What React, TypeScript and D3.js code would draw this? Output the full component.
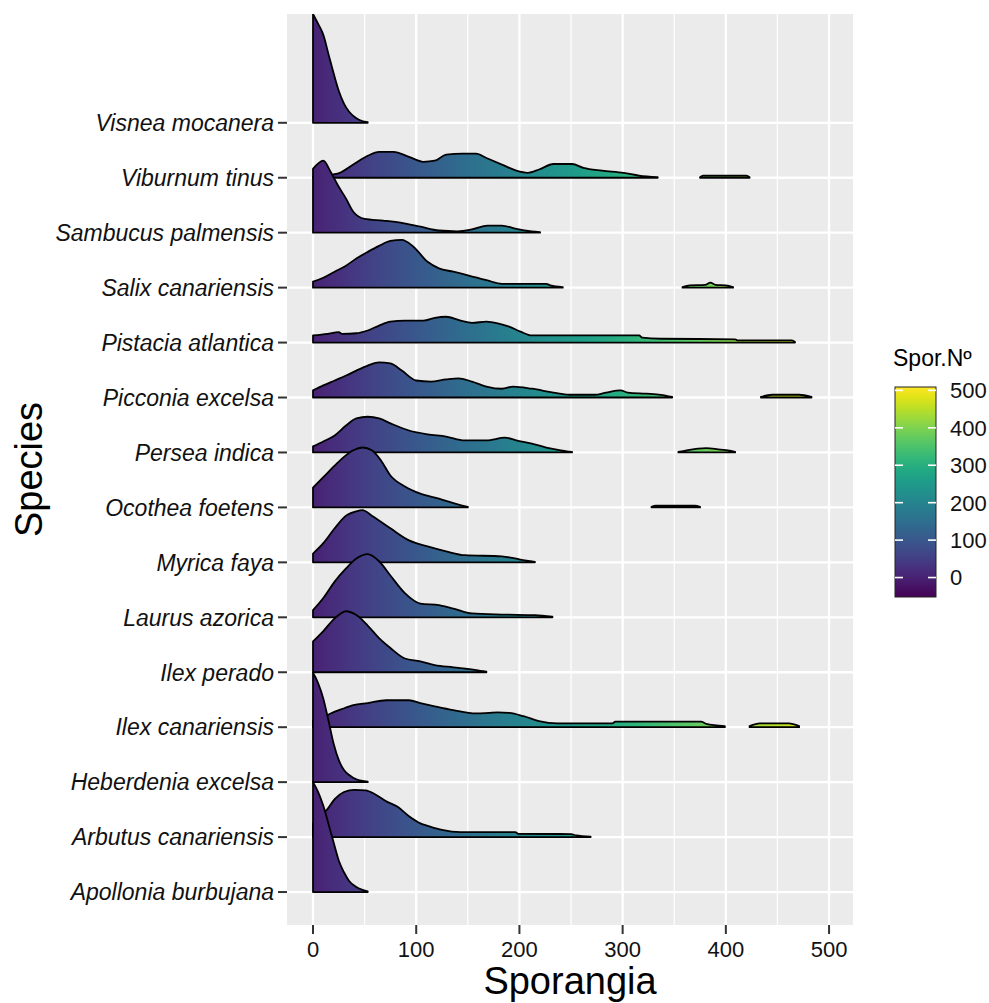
import React from "react";
import * as d3 from "d3";

// categories, bottom to top
const speciesNames = [
  "Apollonia burbujana",
  "Arbutus canariensis",
  "Heberdenia excelsa",
  "Ilex canariensis",
  "Ilex perado",
  "Laurus azorica",
  "Myrica faya",
  "Ocothea foetens",
  "Persea indica",
  "Picconia excelsa",
  "Pistacia atlantica",
  "Salix canariensis",
  "Sambucus palmensis",
  "Viburnum tinus",
  "Visnea mocanera",
];

// ridge heights as [sporangia, scaled density]; 1 = one row. Each species is a list of segments
const apollonia = [[[0, 2.0], [5, 1.82], [10, 1.57], [15, 1.24], [20, 0.9], [25, 0.57], [30, 0.36], [35, 0.2], [42, 0.09], [53, 0.01]]];
const arbutus = [[[0, 0.25], [7, 0.38], [14, 0.51], [21, 0.69], [30, 0.82], [40, 0.86], [51, 0.85], [60, 0.78], [71, 0.65], [82, 0.55], [93, 0.38], [104, 0.25], [112, 0.2], [125, 0.13], [143, 0.09], [196, 0.09], [199, 0.06], [250, 0.055], [255, 0.03], [269, 0.01]]];
const heberdenia = [[[0, 1.99], [5, 1.8], [10, 1.52], [15, 1.12], [20, 0.7], [25, 0.4], [30, 0.22], [35, 0.13], [42, 0.05], [53, 0.01]]];
const ilexCanariensis = [
  [[0, 0.12], [10, 0.18], [17, 0.25], [28, 0.33], [39, 0.4], [53, 0.44], [71, 0.49], [93, 0.49], [104, 0.44], [118, 0.38], [136, 0.31], [158, 0.25], [170, 0.26], [179, 0.27], [190, 0.26], [204, 0.2], [219, 0.11], [237, 0.07], [290, 0.07], [293, 0.1], [376, 0.1], [381, 0.06], [399, 0.02]],
  [[423, 0.02], [433, 0.07], [461, 0.07], [471, 0.02]],
];
const ilexPerado = [[[0, 0.56], [10, 0.75], [21, 0.98], [32, 1.11], [42, 1.04], [53, 0.85], [64, 0.62], [75, 0.44], [89, 0.25], [104, 0.2], [118, 0.13], [136, 0.09], [158, 0.04], [168, 0.01]]];
const laurus = [[[0, 0.13], [10, 0.35], [21, 0.65], [32, 0.89], [42, 1.07], [53, 1.15], [64, 1.02], [75, 0.76], [89, 0.44], [104, 0.25], [122, 0.22], [136, 0.16], [154, 0.07], [183, 0.05], [215, 0.04], [232, 0.01]]];
const myrica = [[[0, 0.16], [10, 0.35], [21, 0.62], [32, 0.85], [42, 0.93], [48, 0.95], [57, 0.85], [75, 0.62], [93, 0.4], [111, 0.29], [129, 0.2], [147, 0.13], [183, 0.11], [201, 0.05], [215, 0.01]]];
const ocothea = [
  [[0, 0.36], [10, 0.55], [21, 0.76], [30, 0.92], [39, 1.04], [48, 1.09], [57, 1.04], [66, 0.85], [75, 0.58], [89, 0.38], [104, 0.25], [122, 0.16], [136, 0.08], [150, 0.01]],
  [[328, 0.01], [332, 0.03], [370, 0.03], [375, 0.01]],
];
const persea = [
  [[0, 0.11], [10, 0.2], [21, 0.31], [32, 0.49], [42, 0.62], [53, 0.65], [64, 0.62], [75, 0.53], [93, 0.4], [111, 0.33], [129, 0.29], [147, 0.22], [168, 0.22], [186, 0.27], [197, 0.22], [212, 0.16], [226, 0.09], [240, 0.04], [251, 0.01]],
  [[354, 0.01], [362, 0.04], [381, 0.08], [395, 0.05], [402, 0.04], [409, 0.01]],
];
const picconia = [
  [[0, 0.13], [10, 0.22], [21, 0.31], [32, 0.4], [42, 0.49], [53, 0.58], [64, 0.64], [75, 0.62], [86, 0.49], [100, 0.31], [114, 0.29], [129, 0.33], [141, 0.35], [154, 0.29], [168, 0.2], [183, 0.16], [194, 0.2], [212, 0.16], [233, 0.09], [248, 0.05], [273, 0.05], [284, 0.09], [298, 0.13], [305, 0.09], [323, 0.07], [337, 0.05], [348, 0.01]],
  [[434, 0.01], [445, 0.05], [471, 0.05], [483, 0.01]],
];
const pistacia = [[[0, 0.13], [14, 0.16], [25, 0.19], [28, 0.16], [42, 0.17], [53, 0.22], [64, 0.31], [75, 0.38], [89, 0.4], [107, 0.4], [118, 0.45], [129, 0.47], [143, 0.4], [154, 0.36], [168, 0.38], [179, 0.35], [190, 0.29], [201, 0.2], [212, 0.13], [237, 0.13], [316, 0.13], [319, 0.09], [337, 0.07], [409, 0.06], [411, 0.04], [464, 0.04], [467, 0.01]]];
const salix = [
  [[0, 0.11], [10, 0.18], [21, 0.29], [32, 0.4], [42, 0.53], [53, 0.65], [64, 0.76], [75, 0.85], [86, 0.87], [97, 0.75], [111, 0.47], [122, 0.35], [136, 0.29], [151, 0.22], [169, 0.13], [183, 0.07], [226, 0.07], [230, 0.04], [242, 0.01]],
  [[358, 0.01], [365, 0.04], [380, 0.05], [385, 0.09], [390, 0.05], [400, 0.04], [407, 0.01]],
];
const sambucus = [[[0, 1.16], [10, 1.31], [17, 1.11], [24.5, 0.85], [32, 0.62], [39, 0.38], [50, 0.25], [68, 0.22], [86, 0.18], [104, 0.11], [122, 0.04], [140, 0.025], [154, 0.06], [169, 0.13], [183, 0.13], [197, 0.07], [212, 0.025], [220, 0.01]]];
const viburnum = [
  [[0, 0.01], [10, 0.03], [20, 0.06], [26, 0.09], [39, 0.24], [53, 0.4], [64, 0.47], [78, 0.47], [93, 0.38], [107, 0.29], [118, 0.31], [129, 0.42], [145, 0.44], [158, 0.44], [168, 0.36], [183, 0.24], [197, 0.13], [208, 0.09], [219, 0.15], [233, 0.25], [251, 0.25], [262, 0.18], [280, 0.13], [301, 0.09], [316, 0.04], [334, 0.01]],
  [[375, 0.01], [378, 0.04], [420, 0.04], [423, 0.01]],
];
const visnea = [[[0, 1.98], [5, 1.8], [10, 1.6], [15, 1.25], [20, 0.9], [25, 0.58], [30, 0.35], [35, 0.2], [40, 0.11], [45, 0.05], [53, 0.01]]];

const ridges = [apollonia, arbutus, heberdenia, ilexCanariensis, ilexPerado, laurus, myrica, ocothea, persea, picconia, pistacia, salix, sambucus, viburnum, visnea];

const xTicks = [0, 100, 200, 300, 400, 500];
const xMinor = [50, 150, 250, 350, 450];
const fillRange = [-52, 509];
const legendTicks = [0, 100, 200, 300, 400, 500];

const W = 989;
const H = 1003;
const font = "'Liberation Sans', Arial, sans-serif";

export default function App() {
  const panel = { left: 287, right: 853, top: 14, bottom: 925 };
  const x = d3.scaleLinear().domain([-25.2, 523.2]).range([panel.left, panel.right]);
  const y = d3.scaleLinear().domain([0.4, 16.98]).range([panel.bottom, panel.top]);

  const stops = d3.range(0, 1.0001, 0.05);

  const legend = { left: 895, right: 936, top: 387, bottom: 597 };
  const ly = d3.scaleLinear().domain(fillRange).range([legend.bottom, legend.top]);

  const order = d3.range(speciesNames.length).reverse(); // top rows first, lower rows overlap

  return (
    <div style={{ position: "absolute", left: 0, top: 0 }}>
      <svg width={W} height={H} style={{ display: "block", fontFamily: font }}>
        <defs>
          <linearGradient id="vir" gradientUnits="userSpaceOnUse" x1={x(fillRange[0])} x2={x(fillRange[1])} y1={0} y2={0}>
            {stops.map((t) => (
              <stop key={t} offset={t} stopColor={d3.interpolateViridis(t)} />
            ))}
          </linearGradient>
          <linearGradient id="virLegend" x1={0} x2={0} y1={1} y2={0}>
            {stops.map((t) => (
              <stop key={t} offset={t} stopColor={d3.interpolateViridis(t)} />
            ))}
          </linearGradient>
          <clipPath id="panelClip">
            <rect x={panel.left} y={panel.top} width={panel.right - panel.left} height={panel.bottom - panel.top} />
          </clipPath>
        </defs>
        <rect width={W} height={H} fill="#fff" />

        {/* panel */}
        <rect x={panel.left} y={panel.top} width={panel.right - panel.left} height={panel.bottom - panel.top} fill="#EBEBEB" />
        {xMinor.map((v) => (
          <line key={"m" + v} x1={x(v)} x2={x(v)} y1={panel.top} y2={panel.bottom} stroke="#fff" strokeWidth={1.2} />
        ))}
        {xTicks.map((v) => (
          <line key={"g" + v} x1={x(v)} x2={x(v)} y1={panel.top} y2={panel.bottom} stroke="#fff" strokeWidth={2.3} />
        ))}
        {speciesNames.map((s, i) => (
          <line key={"h" + s} x1={panel.left} x2={panel.right} y1={y(i + 1)} y2={y(i + 1)} stroke="#fff" strokeWidth={2.3} />
        ))}

        <g clipPath="url(#panelClip)">
          {order.map((i) => {
            const base = i + 1;
            const area = d3
              .area<number[]>()
              .x((d) => x(d[0]))
              .y0(() => y(base))
              .y1((d) => y(base + d[1]))
              .curve(d3.curveMonotoneX);
            return (
              <g key={speciesNames[i]}>
                {ridges[i].map((seg, k) => (
                  <path key={k} d={area(seg as number[][]) || ""} fill="url(#vir)" stroke="#000" strokeWidth={1.8} strokeLinejoin="round" />
                ))}
              </g>
            );
          })}
        </g>

        {/* y axis */}
        {speciesNames.map((s, i) => (
          <g key={"yl" + s}>
            <line x1={panel.left - 9} x2={panel.left} y1={y(i + 1)} y2={y(i + 1)} stroke="#333" strokeWidth={2} />
            <text x={panel.left - 13} y={y(i + 1)} dy="0.36em" textAnchor="end" fontStyle="italic" fontSize={23} fill="#111">
              {s}
            </text>
          </g>
        ))}

        {/* x axis */}
        {xTicks.map((v) => (
          <g key={"xl" + v}>
            <line x1={x(v)} x2={x(v)} y1={panel.bottom} y2={panel.bottom + 9} stroke="#333" strokeWidth={2} />
            <text x={x(v)} y={957} textAnchor="middle" fontSize={22} fill="#111">
              {v}
            </text>
          </g>
        ))}

        <text x={(panel.left + panel.right) / 2} y={994} textAnchor="middle" fontSize={38} fill="#000">
          Sporangia
        </text>
        <text transform={`translate(42,${(panel.top + panel.bottom) / 2}) rotate(-90)`} textAnchor="middle" fontSize={38} fill="#000">
          Species
        </text>

        {/* legend */}
        <text x={893} y={366} fontSize={23} fill="#000">
          Spor.Nº
        </text>
        <rect x={legend.left} y={legend.top} width={legend.right - legend.left} height={legend.bottom - legend.top} fill="url(#virLegend)" stroke="#222" strokeWidth={1} />
        {legendTicks.map((v) => (
          <g key={"lt" + v}>
            <line x1={legend.left} x2={legend.left + 8} y1={ly(v)} y2={ly(v)} stroke="#fff" strokeWidth={1.6} />
            <line x1={legend.right - 8} x2={legend.right} y1={ly(v)} y2={ly(v)} stroke="#fff" strokeWidth={1.6} />
            <text x={950} y={ly(v)} dy="0.36em" fontSize={22} fill="#111">
              {v}
            </text>
          </g>
        ))}
      </svg>
    </div>
  );
}
